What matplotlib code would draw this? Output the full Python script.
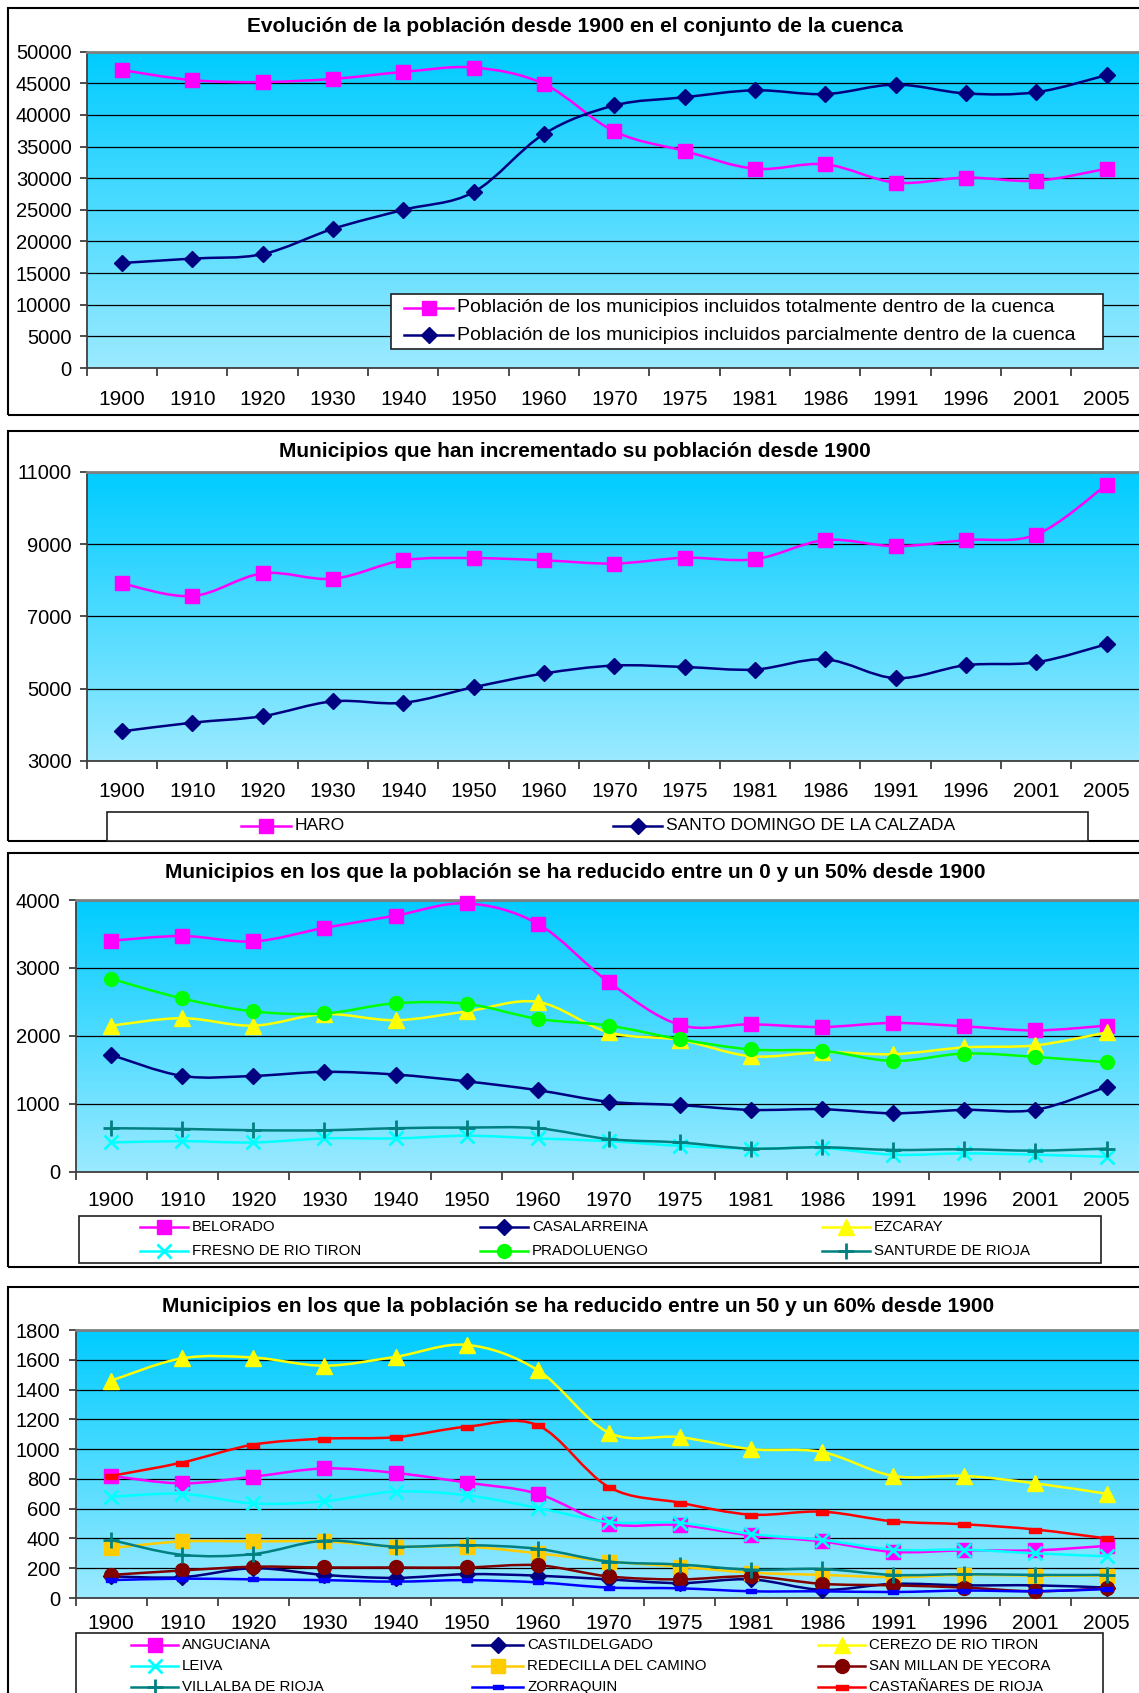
import numpy as np
import matplotlib.pyplot as plt
from matplotlib.path import Path
from matplotlib.patches import PathPatch, Rectangle
from matplotlib.lines import Line2D

plt.rcParams['font.family'] = ['Liberation Sans', 'DejaVu Sans']

W, H = 1139, 1693

years = ['1900', '1910', '1920', '1930', '1940', '1950', '1960', '1970',
         '1975', '1981', '1986', '1991', '1996', '2001', '2005']

# grafico 1: conjunto de la cuenca
pob_total = [47100, 45500, 45200, 45700, 46800, 47500, 44900, 37400,
             34300, 31500, 32200, 29300, 30100, 29600, 31500]
pob_parcial = [16600, 17300, 18000, 22000, 25000, 27800, 37000, 41500,
               42800, 43900, 43300, 44800, 43400, 43600, 46300]

# grafico 2: municipios que crecen
haro = [7910, 7560, 8190, 8040, 8550, 8610, 8550, 8460,
        8620, 8580, 9110, 8940, 9110, 9260, 10640]
santo_domingo = [3820, 4060, 4240, 4650, 4610, 5040, 5420, 5640,
                 5600, 5530, 5810, 5290, 5650, 5730, 6230]

# grafico 3: reduccion 0-50%
belorado = [3400, 3470, 3390, 3590, 3770, 3950, 3650, 2790,
            2160, 2170, 2130, 2190, 2140, 2080, 2150]
casalarreina = [1720, 1410, 1410, 1470, 1430, 1330, 1200, 1030,
                980, 910, 920, 860, 910, 910, 1250]
ezcaray = [2150, 2260, 2150, 2320, 2230, 2360, 2500, 2050,
           1940, 1700, 1760, 1730, 1830, 1860, 2050]
fresno = [430, 450, 430, 490, 490, 530, 490, 450,
          380, 340, 350, 250, 270, 250, 220]
pradoluengo = [2840, 2550, 2360, 2330, 2480, 2470, 2250, 2150,
               1950, 1800, 1780, 1630, 1740, 1690, 1610]
santurde = [640, 630, 610, 610, 640, 650, 640, 480,
            430, 340, 360, 320, 330, 310, 340]

# grafico 4: reduccion 50-60%
anguciana = [820, 770, 815, 870, 840, 775, 700, 500,
             490, 420, 380, 310, 320, 320, 350]
castildelgado = [145, 140, 200, 155, 135, 160, 150, 125,
                 100, 125, 55, 95, 85, 85, 70]
cerezo = [1460, 1610, 1615, 1560, 1620, 1700, 1530, 1110,
          1080, 1000, 980, 820, 820, 770, 700]
leiva = [680, 700, 635, 650, 715, 690, 605, 510,
         505, 430, 390, 325, 325, 300, 280]
redecilla = [335, 380, 380, 380, 345, 345, 300, 245,
             210, 170, 155, 140, 155, 150, 150]
san_millan = [155, 185, 210, 205, 205, 205, 220, 145,
              125, 145, 95, 85, 70, 45, 65]
villalba = [390, 290, 295, 385, 345, 355, 330, 245,
            225, 190, 195, 155, 160, 155, 155]
zorraquin = [120, 130, 125, 120, 110, 120, 105, 70,
             65, 45, 45, 40, 50, 45, 60]
castanares = [820, 910, 1030, 1070, 1080, 1150, 1160, 745,
              640, 560, 580, 515, 495, 460, 400]

dash = [(-1, -0.45), (1, -0.45), (1, 0.45), (-1, 0.45), (-1, -0.45)]

st_pink = dict(color='#FF00FF', marker='s', ms=10, mew=1)
st_navy = dict(color='#000080', marker='D', ms=8, mew=1)
st_yellow = dict(color='#FFFF00', marker='^', ms=11, mew=1)
st_cyan = dict(color='#00FFFF', marker='x', ms=10, mew=2)
st_green = dict(color='#00FF00', marker='o', ms=10, mew=1)
st_teal = dict(color='#008080', marker='+', ms=12, mew=2)
st_gold = dict(color='#FFCC00', marker='s', ms=10, mew=1)
st_dkred = dict(color='#800000', marker='o', ms=10, mew=1)
st_blue = dict(color='#0000FF', marker=dash, ms=7, mew=1)
st_red = dict(color='#FF0000', marker=dash, ms=8, mew=1)


def fx(x):
    return x / W


def fy(y):
    return 1 - y / H


def smooth_path(ys):
    pts = np.column_stack([np.arange(len(ys)), ys]).astype(float)
    n = len(pts)
    verts = [pts[0]]
    codes = [Path.MOVETO]
    for i in range(n - 1):
        p0 = pts[max(i - 1, 0)]
        p1 = pts[i]
        p2 = pts[i + 1]
        p3 = pts[min(i + 2, n - 1)]
        verts += [p1 + (p2 - p0) / 6, p2 - (p3 - p1) / 6, p2]
        codes += [Path.CURVE4] * 3
    return Path(verts, codes)


def serie(ax, ys, st, z):
    ax.add_patch(PathPatch(smooth_path(ys), fill=False, edgecolor=st['color'],
                           lw=1.8, zorder=z, capstyle='round'))
    ax.plot(np.arange(len(ys)), ys, linestyle='none', marker=st['marker'],
            ms=st['ms'], mfc=st['color'], mec=st['color'], mew=st['mew'],
            zorder=z + 0.5, clip_on=False)


top_c = np.array([0, 204, 255]) / 255
bot_c = np.array([155, 234, 255]) / 255
grad = np.linspace(0, 1, 256)[:, None, None] * (bot_c - top_c) + top_c


def make_axes(l, r, t, b, xpad=16):
    ax = fig.add_axes([fx(l), fy(b), (r - l) / W, (b - t) / H])
    ax.imshow(grad, extent=[0, 1, 0, 1], transform=ax.transAxes,
              aspect='auto', zorder=0)
    ax.set_xlim(-0.5, 14.5)
    ax.set_xticks(np.arange(-0.5, 15, 1))
    ax.set_xticklabels([])
    ax.set_xticks(np.arange(15), minor=True)
    ax.set_xticklabels(years, minor=True, fontsize=15)
    ax.tick_params(axis='x', which='major', length=6, width=1.2,
                   color='#303030', direction='out')
    ax.tick_params(axis='x', which='minor', length=0, pad=xpad)
    ax.tick_params(axis='y', length=5, width=1.2, color='#303030',
                   labelsize=14.5, pad=6)
    ax.yaxis.grid(True, color='black', lw=0.9, zorder=1)
    ax.set_axisbelow(True)
    for s in ['left', 'bottom']:
        ax.spines[s].set_color('#404040')
        ax.spines[s].set_linewidth(1.3)
    ax.spines['top'].set_color('#808080')
    ax.spines['top'].set_linewidth(2)
    ax.spines['right'].set_visible(False)
    return ax


def frame(t, b):
    fig.add_artist(Rectangle((fx(7.5), fy(b)), (1160 - 7.5) / W, (b - t) / H,
                             transform=fig.transFigure, fill=False,
                             edgecolor='black', lw=1.5, clip_on=False))


def legend_box(l, r, t, b):
    fig.add_artist(Rectangle((fx(l), fy(b)), (r - l) / W, (b - t) / H,
                             transform=fig.transFigure, facecolor='white',
                             edgecolor='#202020', lw=1.2, clip_on=False,
                             zorder=3))


def legend_entry(x0, x1, y, st, label, fs):
    fig.add_artist(Line2D([fx(x0), fx(x1)], [fy(y), fy(y)],
                          transform=fig.transFigure, color=st['color'],
                          lw=1.8, zorder=4))
    fig.add_artist(Line2D([fx((x0 + x1) / 2)], [fy(y)],
                          transform=fig.transFigure, marker=st['marker'],
                          ms=st['ms'], mfc=st['color'], mec=st['color'],
                          mew=st['mew'], zorder=5))
    fig.text(fx(x1 + 4), fy(y), label, va='center', ha='left', fontsize=fs,
             zorder=6)


def title(x, y, txt):
    fig.text(fx(x), fy(y), txt, ha='center', va='center', fontsize=15,
             fontweight='bold')


fig = plt.figure(figsize=(W / 100, H / 100), dpi=100)
fig.patch.set_facecolor('white')

# ---- panel 1
frame(7.5, 415)
title(575, 26, 'Evolución de la población desde 1900 en el conjunto de la cuenca')
ax1 = make_axes(86.8, 1141.8, 51.7, 368)
serie(ax1, pob_total, st_pink, 3)
serie(ax1, pob_parcial, st_navy, 4)
ax1.set_ylim(0, 50000)
ax1.set_yticks(np.arange(0, 50001, 5000))
legend_box(391, 1103, 294, 349)
legend_entry(404, 453, 308, st_pink,
             'Población de los municipios incluidos totalmente dentro de la cuenca', 14)
legend_entry(404, 453, 335, st_navy,
             'Población de los municipios incluidos parcialmente dentro de la cuenca', 14)

# ---- panel 2
frame(431, 841)
title(575, 451, 'Municipios que han incrementado su población desde 1900')
ax2 = make_axes(86.8, 1141.8, 471.7, 761, xpad=15)
serie(ax2, haro, st_pink, 3)
serie(ax2, santo_domingo, st_navy, 4)
ax2.set_ylim(3000, 11000)
ax2.set_yticks(np.arange(3000, 11001, 2000))
legend_box(107, 1088, 812, 841)
legend_entry(241, 291, 826, st_pink, 'HARO', 12.6)
legend_entry(613, 662, 826, st_navy, 'SANTO DOMINGO DE LA CALZADA', 12.6)

# ---- panel 3
frame(853, 1267)
title(575, 873, 'Municipios en los que la población se ha reducido entre un 0 y un 50% desde 1900')
ax3 = make_axes(75.6, 1142.1, 900, 1171.7, xpad=14)
g3 = [(belorado, st_pink, 'BELORADO'), (casalarreina, st_navy, 'CASALARREINA'),
      (ezcaray, st_yellow, 'EZCARAY'), (fresno, st_cyan, 'FRESNO DE RIO TIRON'),
      (pradoluengo, st_green, 'PRADOLUENGO'), (santurde, st_teal, 'SANTURDE DE RIOJA')]
for i, (ys, st, lab) in enumerate(g3):
    serie(ax3, ys, st, 3 + i)
ax3.set_ylim(0, 4000)
ax3.set_yticks(np.arange(0, 4001, 1000))
legend_box(78.5, 1101, 1216, 1263)
cols3 = [(139.7, 187.5), (480, 528), (822, 870)]
rows3 = [1227, 1251]
for i, (ys, st, lab) in enumerate(g3):
    x0, x1 = cols3[i % 3]
    legend_entry(x0, x1, rows3[i // 3], st, lab, 10.8)

# ---- panel 4
frame(1287, 1720)
title(578, 1306, 'Municipios en los que la población se ha reducido entre un 50 y un 60% desde 1900')
ax4 = make_axes(75.6, 1142.1, 1330, 1598, xpad=11.5)
g4 = [(anguciana, st_pink, 'ANGUCIANA'), (castildelgado, st_navy, 'CASTILDELGADO'),
      (cerezo, st_yellow, 'CEREZO DE RIO TIRON'), (leiva, st_cyan, 'LEIVA'),
      (redecilla, st_gold, 'REDECILLA DEL CAMINO'), (san_millan, st_dkred, 'SAN MILLAN DE YECORA'),
      (villalba, st_teal, 'VILLALBA DE RIOJA'), (zorraquin, st_blue, 'ZORRAQUIN'),
      (castanares, st_red, 'CASTAÑARES DE RIOJA')]
for i, (ys, st, lab) in enumerate(g4):
    serie(ax4, ys, st, 3 + i)
ax4.set_ylim(0, 1800)
ax4.set_yticks(np.arange(0, 1801, 200))
legend_box(76, 1103, 1633, 1720)
cols4 = [(131, 178), (472, 523), (818, 865)]
rows4 = [1645, 1666, 1687]
for i, (ys, st, lab) in enumerate(g4):
    x0, x1 = cols4[i % 3]
    legend_entry(x0, x1, rows4[i // 3], st, lab, 10.8)

fig.savefig('out.png', dpi=100)
